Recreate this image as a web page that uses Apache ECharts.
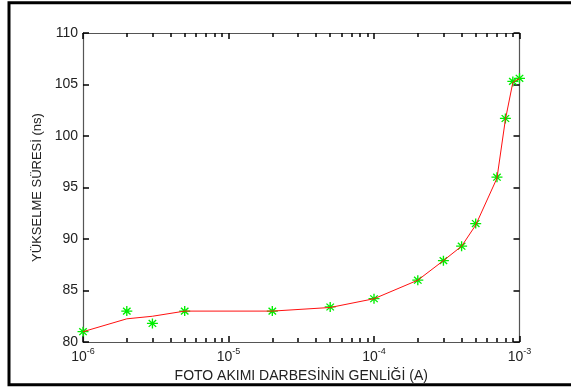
<!DOCTYPE html>
<html><head><meta charset="utf-8">
<script src="https://cdn.jsdelivr.net/npm/echarts@6/dist/echarts.min.js"></script>
<style>html,body{margin:0;padding:0;background:#fff}#c{width:571px;height:388px}</style>
</head><body><div id="c"></div>
<script>
// Data
const xValues = [1e-6, 2e-6, 3e-6, 5e-6, 2e-5, 5e-5, 1e-4, 2e-4, 3e-4, 4e-4, 5e-4, 7e-4, 8e-4, 9e-4, 1e-3];
const measured = [81.0, 83.0, 81.8, 83.0, 83.0, 83.4, 84.2, 86.0, 87.9, 89.3, 91.5, 96.0, 101.7, 105.3, 105.6];
const fitted   = [81.0, 82.25, 82.5, 83.0, 83.0, 83.35, 84.2, 86.0, 87.9, 89.3, 91.35, 95.9, 101.6, 105.2, 105.6];
const yTicks = [80, 85, 90, 95, 100, 105, 110];
const majorX = [1e-6, 1e-5, 1e-4, 1e-3];
const minorX = [2e-6,3e-6,4e-6,5e-6,6e-6,7e-6,8e-6,9e-6,2e-5,3e-5,4e-5,5e-5,6e-5,7e-5,8e-5,9e-5,2e-4,3e-4,4e-4,5e-4,6e-4,7e-4,8e-4,9e-4];
const xTitle = 'FOTO AKIMI DARBESİNİN GENLİĞİ (A)';
const yTitle = 'YÜKSELME SÜRESİ (ns)';

const FONT = 'Liberation Sans, Arial, sans-serif';
const TXT = '#222';
const AX = '#555';
const TK = '#000';

const chart = echarts.init(document.getElementById('c'), null, {renderer: 'canvas'});
function expLabel(v) {
  const e = Math.round(Math.log10(v));
  return '{b|10}{s|' + e + '}';
}
const lg = v => Math.log10(v);
const baseX = {
  type: 'log', logBase: 10, min: 1e-6, max: 1e-3, gridIndex: 0,
  splitLine: {show: false}, minorTick: {show: false}, minorSplitLine: {show: false}
};
// helper tick axes in log10 space (decoration only)
function tickAxis(pos, vals, len) {
  return {
    type: 'value', min: -6, max: -3, position: pos, gridIndex: 0,
    axisLine: {show: false}, splitLine: {show: false},
    axisTick: {show: true, inside: true, length: len, customValues: vals.map(lg), lineStyle: {color: TK, width: 1.5}},
    axisLabel: {show: false}
  };
}
const option = {
  backgroundColor: '#fff',
  animation: false,
  grid: {left: 83, right: 51.5, top: 33, bottom: 46, containLabel: false},
  xAxis: [
    Object.assign({}, baseX, {
      position: 'bottom',
      name: xTitle, nameLocation: 'middle', nameGap: 18,
      nameTextStyle: {fontFamily: FONT, fontSize: 14, color: TXT},
      axisLine: {show: true, lineStyle: {color: AX, width: 1.2}},
      axisTick: {show: false},
      axisLabel: {
        show: true, margin: 6, formatter: expLabel,
        rich: {
          b: {fontFamily: FONT, fontSize: 14, color: TXT, verticalAlign: 'bottom', lineHeight: 16},
          s: {fontFamily: FONT, fontSize: 9, color: TXT, verticalAlign: 'bottom', lineHeight: 16, padding: [0, 0, 8, 0]}
        }
      }
    }),
    tickAxis('bottom', minorX, 4),
    tickAxis('bottom', majorX, 6),
    Object.assign({}, baseX, {
      position: 'top',
      axisLine: {show: true, lineStyle: {color: AX, width: 1.2}},
      axisTick: {show: false},
      axisLabel: {show: false}
    }),
    tickAxis('top', minorX, 4),
    tickAxis('top', majorX, 6)
  ],
  yAxis: [
    {
      type: 'value', min: 80, max: 110, interval: 5, position: 'left',
      name: yTitle, nameLocation: 'middle', nameGap: 29, nameRotate: 90,
      nameTextStyle: {fontFamily: FONT, fontSize: 13, color: TXT},
      axisLine: {show: true, lineStyle: {color: AX, width: 1.2}},
      axisTick: {show: true, inside: true, length: 6, lineStyle: {color: TK, width: 1.5}},
      axisLabel: {show: true, margin: 5, fontFamily: FONT, fontSize: 14, color: TXT,
        formatter: v => (yTicks.indexOf(v) >= 0 ? String(v) : '')},
      splitLine: {show: false}
    },
    {
      type: 'value', min: 80, max: 110, interval: 5, position: 'right',
      axisLine: {show: true, lineStyle: {color: AX, width: 1.2}},
      axisTick: {show: true, inside: true, length: 6, lineStyle: {color: TK, width: 1.5}},
      axisLabel: {show: false},
      splitLine: {show: false}
    }
  ],
  series: [
    {
      type: 'scatter', xAxisIndex: 0, yAxisIndex: 0, z: 2,
      data: xValues.map((x, i) => [x, measured[i]]),
      symbol: 'path://M5 0L5 10M0 5L10 5M1.6 1.6L8.4 8.4M8.4 1.6L1.6 8.4',
      symbolSize: [11, 10],
      itemStyle: {color: 'transparent', borderColor: '#00ee00', borderWidth: 1.3, opacity: 1},
      clip: false
    },
    {
      type: 'line', xAxisIndex: 0, yAxisIndex: 0, z: 3,
      data: xValues.map((x, i) => [x, fitted[i]]),
      showSymbol: false, symbol: 'none',
      lineStyle: {color: '#ff1010', width: 1},
      clip: false
    }
  ],
  graphic: [
    {type: 'rect', silent: true, z: 100,
     shape: {x: 9, y: 2.8, width: 600, height: 381.9},
     style: {fill: null, stroke: '#000', lineWidth: 3}}
  ]
};
chart.setOption(option);
</script>
</body></html>
